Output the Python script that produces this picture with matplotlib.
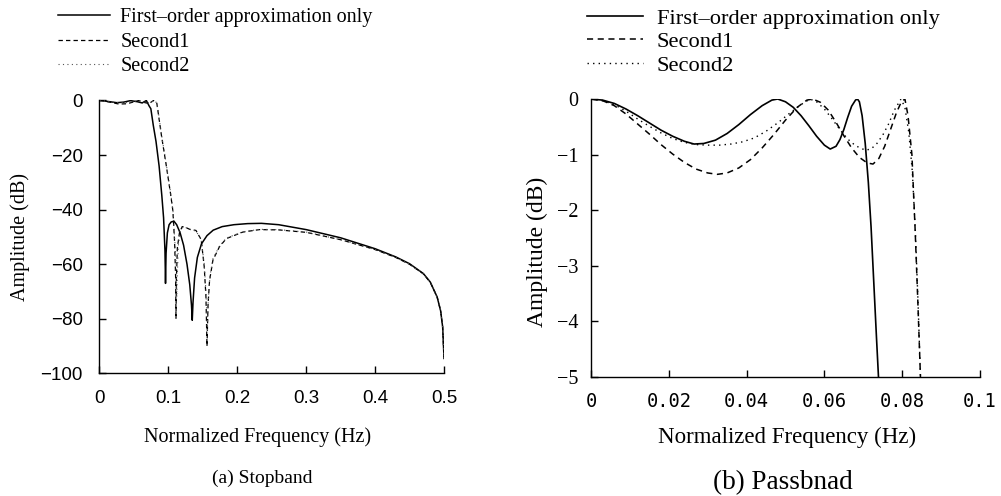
import matplotlib
matplotlib.use('Agg')
import matplotlib.pyplot as plt

# (a) stopband: normalized frequency vs amplitude in dB
STOP_FIRST_F = [0, 0.005, 0.015, 0.025, 0.035, 0.045, 0.055, 0.062, 0.068, 0.072, 0.0745,
                0.078, 0.082, 0.0865, 0.0905, 0.093, 0.095, 0.0958, 0.0966, 0.0985, 0.101,
                0.104, 0.108, 0.112, 0.117, 0.122, 0.127, 0.131, 0.1335, 0.1346, 0.1357,
                0.138, 0.142, 0.148, 0.156, 0.165, 0.178, 0.195, 0.215, 0.235, 0.26, 0.3,
                0.35, 0.4, 0.43, 0.45, 0.47, 0.48, 0.49, 0.495, 0.498, 0.5]
STOP_FIRST_DB = [0, -0.1, -0.45, -0.8, -0.6, -0.05, -0.45, -0.9, 0, -2.0, -3.0,
                 -9, -15, -24, -35, -43, -55, -67, -56, -48.5, -45.5,
                 -44.5, -44.2, -45.5, -48.5, -53, -60, -67.5, -75, -80.5, -74,
                 -65, -57.5, -52.5, -49.5, -47.5, -46.2, -45.5, -45.1, -45.0, -45.5, -47.3,
                 -50.3, -54.3, -57.3, -59.8, -63.4, -66.5, -72, -77, -83, -94.5]

STOP_SEC1_F = [0, 0.005, 0.015, 0.028, 0.04, 0.057, 0.066, 0.072, 0.0785, 0.0832, 0.09, 0.097,
               0.103, 0.1065, 0.109, 0.1105, 0.111, 0.1115, 0.113, 0.116, 0.12, 0.125, 0.131,
               0.14, 0.1476, 0.152, 0.1545, 0.156, 0.1575, 0.1597, 0.1646, 0.174, 0.184, 0.208,
               0.232, 0.26, 0.3, 0.35, 0.4, 0.43, 0.45, 0.47, 0.48, 0.49, 0.495, 0.498, 0.5]
STOP_SEC1_DB = [0, -0.1, -0.6, -1.3, -1.2, 0, -0.8, -1.1, 0, -1, -13, -24,
                -34, -40.4, -52, -65, -80, -66, -54, -48.5, -46.2, -46.5, -47.2,
                -47.6, -51, -61, -72, -90, -75, -66, -58.5, -53.6, -50.6, -48.2,
                -47.3, -47.4, -48.3, -51, -54.6, -57.5, -60, -63.5, -66.6, -72, -77, -83, -94.5]

STOP_SEC2_F = [0, 0.005, 0.015, 0.028, 0.04, 0.056, 0.066, 0.072, 0.0795, 0.0835, 0.09, 0.097,
               0.103, 0.1065, 0.109, 0.1112, 0.1122, 0.1132, 0.1145, 0.117, 0.121, 0.126, 0.132,
               0.14, 0.1476, 0.152, 0.1545, 0.1565, 0.158, 0.1605, 0.1646, 0.174, 0.184, 0.208,
               0.232, 0.26, 0.3, 0.35, 0.4, 0.43, 0.45, 0.47, 0.48, 0.49, 0.495, 0.498, 0.5]
STOP_SEC2_DB = [0, -0.1, -0.5, -0.8, -0.75, 0, -0.7, -0.9, 0, -1, -12.5, -23.5,
                -33.5, -40, -50, -60, -72, -62, -53, -48, -46.3, -46.6, -47.3,
                -47.8, -51, -60, -70, -84, -72, -64, -58, -53.4, -50.4, -48.1,
                -47.2, -47.3, -48.2, -51, -54.6, -57.5, -60, -63.5, -66.6, -72, -77, -83, -94.5]

# (b) passband
PASS_FIRST_F = [0, 0.003, 0.006, 0.009, 0.012, 0.015, 0.018, 0.021, 0.024, 0.0265, 0.029,
                0.032, 0.035, 0.038, 0.041, 0.044, 0.0465, 0.048, 0.050, 0.052, 0.054,
                0.056, 0.058, 0.060, 0.0615, 0.063, 0.064, 0.065, 0.066, 0.067, 0.068,
                0.0685, 0.069, 0.0697, 0.0705, 0.0713, 0.072, 0.0727, 0.0734, 0.0742]
PASS_FIRST_DB = [0, -0.02, -0.08, -0.18, -0.3, -0.43, -0.56, -0.67, -0.76, -0.81, -0.8,
                 -0.74, -0.62, -0.46, -0.28, -0.12, -0.02, 0, -0.05, -0.15, -0.3,
                 -0.48, -0.67, -0.83, -0.9, -0.85, -0.73, -0.55, -0.33, -0.13, -0.02,
                 0, -0.05, -0.3, -0.8, -1.5, -2.3, -3.3, -4.3, -5.4]

PASS_SEC1_F = [0, 0.003, 0.006, 0.009, 0.012, 0.015, 0.018, 0.021, 0.024, 0.027, 0.030,
               0.0325, 0.035, 0.038, 0.041, 0.044, 0.047, 0.050, 0.053, 0.0555, 0.057,
               0.059, 0.061, 0.063, 0.065, 0.067, 0.069, 0.071, 0.0725, 0.074, 0.0755,
               0.077, 0.0785, 0.0798, 0.0807, 0.0815, 0.0825, 0.0833, 0.084, 0.0847, 0.0855]
PASS_SEC1_DB = [0, -0.03, -0.12, -0.27, -0.45, -0.63, -0.82, -0.99, -1.14, -1.26, -1.33,
                -1.355, -1.33, -1.24, -1.09, -0.88, -0.64, -0.38, -0.15, -0.02, 0,
                -0.06, -0.2, -0.42, -0.66, -0.88, -1.05, -1.15, -1.17, -1.07, -0.85,
                -0.55, -0.25, -0.05, 0, -0.3, -1.0, -2.3, -3.6, -5.0, -6.5]

PASS_SEC2_F = [0, 0.003, 0.006, 0.009, 0.012, 0.015, 0.018, 0.021, 0.024, 0.027, 0.030,
               0.033, 0.036, 0.039, 0.042, 0.045, 0.048, 0.051, 0.054, 0.0563, 0.058,
               0.060, 0.062, 0.064, 0.066, 0.068, 0.0705, 0.072, 0.0735, 0.075, 0.0765,
               0.078, 0.0797, 0.0807, 0.0817, 0.0826, 0.0834, 0.0841, 0.0847, 0.0855]
PASS_SEC2_DB = [0, -0.03, -0.1, -0.22, -0.36, -0.49, -0.61, -0.71, -0.78, -0.82, -0.83,
                -0.83, -0.81, -0.77, -0.7, -0.58, -0.43, -0.26, -0.1, 0, -0.05,
                -0.18, -0.36, -0.55, -0.72, -0.84, -0.92, -0.9, -0.8, -0.65, -0.45,
                -0.2, 0, -0.15, -0.6, -1.3, -2.4, -3.7, -5.0, -6.5]

SERIES_NAMES = ['First\u2013order approximation only', 'Second1', 'Second2']

STOP_XTICKS = [0, 0.1, 0.2, 0.3, 0.4, 0.5]
STOP_XTICK_LABELS = ['0', '0.1', '0.2', '0.3', '0.4', '0.5']
STOP_YTICKS = [0, -20, -40, -60, -80, -100]
STOP_YTICK_LABELS = ['0', '\u221220', '\u221240', '\u221260', '\u221280', '\u2212100']

PASS_XTICKS = [0, 0.02, 0.04, 0.06, 0.08, 0.1]
PASS_XTICK_LABELS = ['0', '0.02', '0.04', '0.06', '0.08', '0.1']
PASS_YTICKS = [0, -1, -2, -3, -4, -5]
PASS_YTICK_LABELS = ['0', '\u22121', '\u22122', '\u22123', '\u22124', '\u22125']

SERIF = 'Liberation Serif'


def style_axes(ax):
    # gnuplot-like frame: left and bottom only, ticks pointing inward
    for side in ('top', 'right'):
        ax.spines[side].set_visible(False)
    for side in ('left', 'bottom'):
        ax.spines[side].set_linewidth(1.0)
    ax.tick_params(direction='in', length=5, width=1.0, top=False, right=False)


fig = plt.figure(figsize=(10.01, 4.96), dpi=100)

# ---- (a) Stopband
ax1 = fig.add_axes([0.0994, 0.247, 0.3442, 0.5504])
style_axes(ax1)
ax1.plot(STOP_FIRST_F, STOP_FIRST_DB, color='black', lw=1.1, ls='-')
ax1.plot(STOP_SEC1_F, STOP_SEC1_DB, color='black', lw=0.9, ls=(0, (3.5, 2.5)))
ax1.plot(STOP_SEC2_F, STOP_SEC2_DB, color='#555555', lw=0.8, ls=(0, (1, 3)))
ax1.set_xlim(0, 0.5)
ax1.set_ylim(-100, 0)
ax1.set_xticks(STOP_XTICKS)
ax1.set_xticklabels(STOP_XTICK_LABELS)
ax1.set_yticks(STOP_YTICKS)
ax1.set_yticklabels(STOP_YTICK_LABELS)
ax1.tick_params(axis='x', pad=12, labelsize=13.5)
ax1.tick_params(axis='y', pad=12, labelsize=13.5)
for lab in ax1.get_xticklabels() + ax1.get_yticklabels():
    lab.set_fontfamily('Liberation Sans')
ax1.set_xlabel('Normalized Frequency (Hz)', fontfamily=SERIF, fontsize=14.5)
ax1.xaxis.label.set_va('center')
ax1.xaxis.set_label_coords(0.46, -0.233)
ax1.set_ylabel('Amplitude (dB)', fontfamily=SERIF, fontsize=14.5)
ax1.yaxis.label.set_va('center')
ax1.yaxis.set_label_coords(-0.231, 0.5)

ax1.legend(SERIES_NAMES, loc='upper left', bbox_to_anchor=(58 / 1001, 1 - 8 / 496),
           bbox_transform=fig.transFigure, frameon=False, borderpad=0, borderaxespad=0,
           handlelength=2.6, handletextpad=0.5, labelspacing=0.27,
           prop={'family': SERIF, 'size': 14.5})

fig.text(262 / 1001, 1 - 478 / 496, '(a) Stopband', ha='center', va='center',
         fontfamily=SERIF, fontsize=14)

# ---- (b) Passband
ax2 = fig.add_axes([0.5904, 0.2399, 0.3886, 0.5605])
style_axes(ax2)
ax2.plot(PASS_FIRST_F, PASS_FIRST_DB, color='black', lw=1.2, ls='-')
ax2.plot(PASS_SEC1_F, PASS_SEC1_DB, color='black', lw=1.1, ls=(0, (4, 3)))
ax2.plot(PASS_SEC2_F, PASS_SEC2_DB, color='black', lw=1.0, ls=(0, (1, 3)))
ax2.set_xlim(0, 0.1)
ax2.set_ylim(-5, 0)
ax2.set_xticks(PASS_XTICKS)
ax2.set_xticklabels(PASS_XTICK_LABELS)
ax2.set_yticks(PASS_YTICKS)
ax2.set_yticklabels(PASS_YTICK_LABELS)
ax2.tick_params(axis='x', pad=11, labelsize=13.5)
ax2.tick_params(axis='y', pad=9, labelsize=14.5)
for lab in ax2.get_xticklabels():
    lab.set_fontfamily('DejaVu Sans Mono')
for lab in ax2.get_yticklabels():
    lab.set_fontfamily(SERIF)
ax2.set_xlabel('Normalized Frequency (Hz)', fontfamily=SERIF, fontsize=16.5)
ax2.xaxis.label.set_va('center')
ax2.xaxis.set_label_coords(0.504, -0.219)
ax2.set_ylabel('Amplitude (dB)', fontfamily=SERIF, fontsize=17)
ax2.yaxis.label.set_va('center')
ax2.yaxis.set_label_coords(-0.139, 0.45)

ax2.legend(SERIES_NAMES, loc='upper left', bbox_to_anchor=(587 / 1001, 1 - 8 / 496),
           bbox_transform=fig.transFigure, frameon=False, borderpad=0, borderaxespad=0,
           handlelength=2.5, handletextpad=0.6, labelspacing=0.12,
           prop={'family': SERIF, 'size': 16.2})

fig.text(783 / 1001, 1 - 483 / 496, '(b) Passbnad', ha='center', va='center',
         fontfamily=SERIF, fontsize=19.5)

fig.savefig('out.png', dpi=100)
